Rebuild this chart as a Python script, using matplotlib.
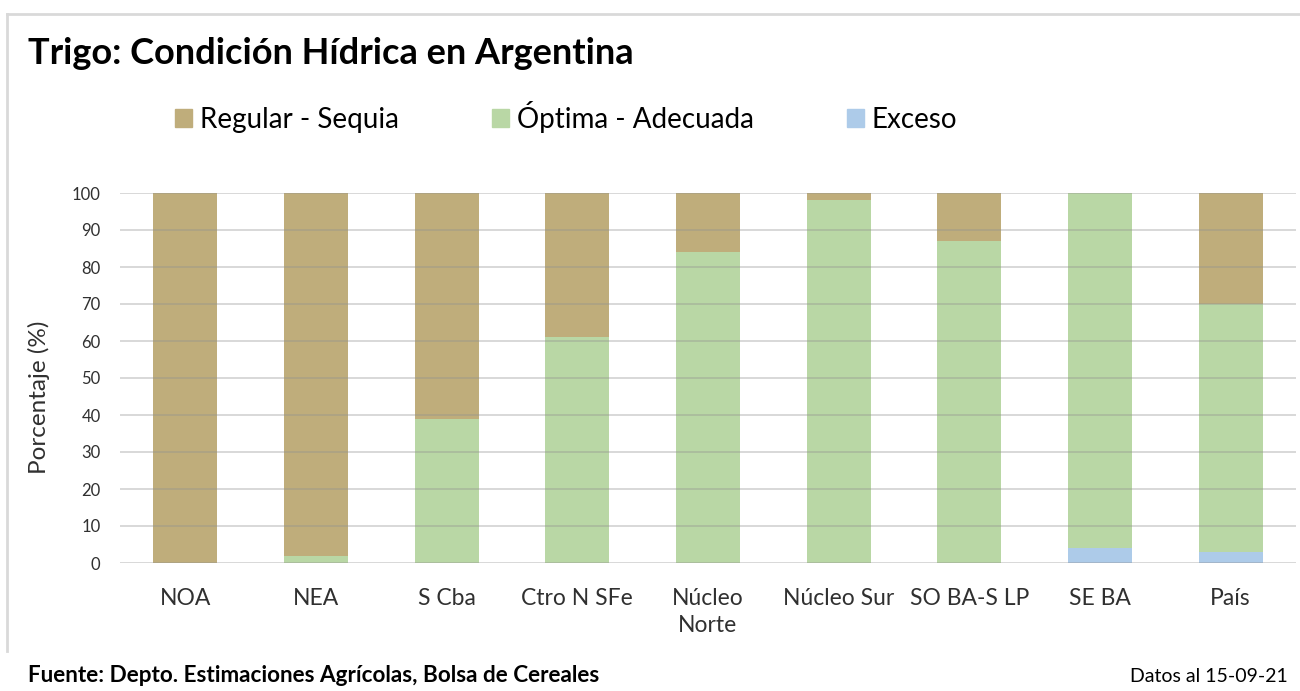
import numpy as np
import matplotlib
matplotlib.use('Agg')
import matplotlib.pyplot as plt
from matplotlib.lines import Line2D
from matplotlib.patches import Patch

#Data
regions = ['NOA', 'NEA', 'S Cba', 'Ctro N SFe', 'Núcleo\nNorte', 'Núcleo Sur', 'SO BA-S LP', 'SE BA', 'País']
exceso = [0, 0, 0, 0, 0, 0, 0, 4, 3]
optima = [0, 2, 39, 61, 84, 98, 87, 96, 67]
regular = [100, 98, 61, 39, 16, 2, 13, 0, 30]

col_regular = '#BFAD7B'
col_optima = '#B9D7A5'
col_exceso = '#ADCBE9'

plt.rcParams['font.family'] = ['Lato', 'DejaVu Sans']

#Plot
fig = plt.figure(figsize=(13, 6.91), dpi=100)
ax = fig.add_axes([120/1300, 1-563/691, 1176/1300, 370/691])

x = np.arange(len(regions))
w = 0.49
exceso = np.array(exceso)
optima = np.array(optima)
regular = np.array(regular)
ax.bar(x, exceso, w, color=col_exceso, zorder=2)
ax.bar(x, optima, w, bottom=exceso, color=col_optima, zorder=2)
ax.bar(x, regular, w, bottom=exceso+optima, color=col_regular, zorder=2)

ax.set_ylim(0, 100)
ax.set_xlim(-0.5, len(regions)-0.5)
ax.set_yticks(range(0, 101, 10))
ax.yaxis.grid(True, color='#909090', alpha=0.35, linewidth=1.4, zorder=3)
ax.set_axisbelow(False)
for s in ax.spines.values():
    s.set_visible(False)
ax.tick_params(axis='both', length=0, colors='#303030')
ax.tick_params(axis='y', labelsize=12, pad=14)
ax.tick_params(axis='x', labelsize=16.5, pad=18)
ax.set_xticks(x)
ax.set_xticklabels(regions, linespacing=1.35)
ax.set_ylabel('Porcentaje (%)', fontsize=17.5, color='#303030')
ax.yaxis.set_label_coords(-0.0595, 0.449)

#Legend
handles = [Patch(color=col_regular), Patch(color=col_optima), Patch(color=col_exceso)]
fig.legend(handles, ['Regular - Sequia', 'Óptima - Adecuada', 'Exceso'],
           loc='center left', bbox_to_anchor=(150/1300, 1-117/691), ncol=3, frameon=False,
           fontsize=20, handlelength=0.6, handleheight=0.6, handletextpad=0.3, columnspacing=3.35)

#Texts
fig.text(28/1300, 1-53/691, 'Trigo: Condición Hídrica en Argentina', fontsize=26, fontweight='bold',
         va='center', ha='left')
fig.text(28/1300, 1-676/691, 'Fuente: Depto. Estimaciones Agrícolas, Bolsa de Cereales', fontsize=16.2,
         fontweight='bold', va='center', ha='left')
fig.text(1288/1300, 1-676/691, 'Datos al 15-09-21', fontsize=14, va='center', ha='right')

#Frame
fig.add_artist(Line2D([7/1300, 7/1300], [1-651/691, 1-14/691], color='#D9D9D9', linewidth=2))
fig.add_artist(Line2D([7/1300, 1.0], [1-14/691, 1-14/691], color='#D9D9D9', linewidth=2))

fig.savefig('out.png', dpi=100)
